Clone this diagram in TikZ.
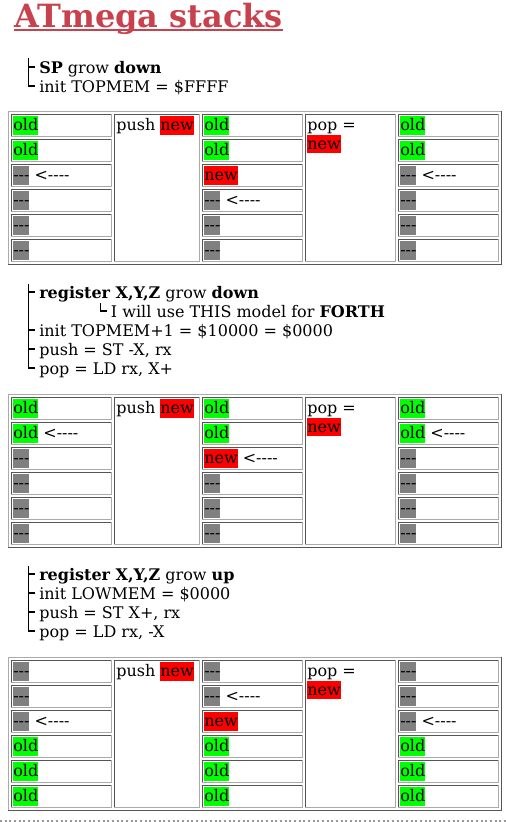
\documentclass[tikz,border=0pt]{standalone}
\usepackage{fontspec}
\setmainfont{DejaVu Serif}
\definecolor{dk}{RGB}{85,85,85}
\definecolor{lt}{RGB}{170,170,170}
\definecolor{hlg}{RGB}{0,255,0}
\definecolor{hlr}{RGB}{255,0,0}
\definecolor{hlk}{RGB}{128,128,128}
\definecolor{titlered}{RGB}{200,66,78}
\newcommand\hlbx[2]{{\setlength\fboxsep{0pt}\colorbox{#1}{\rule[-2.83pt]{0pt}{13.97pt}#2}}}
\newcommand\cOld{\hlbx{hlg}{old}}
\newcommand\cDash{\hlbx{hlk}{-\kern0pt-\kern0pt-}}
\newcommand\cNew{\hlbx{hlr}{new}}
\newcommand\cArr{\ <\kern0pt-\kern0pt-\kern0pt-\kern0pt-}
% bevelled 1px border: L T R B topleft-colour bottomright-colour
\newcommand\bevel[6]{%
  \fill[#5] (#1,#2) rectangle (#3,#2+1);
  \fill[#5] (#1,#2) rectangle (#1+1,#4);
  \fill[#6] (#1,#4-1) rectangle (#3,#4);
  \fill[#6] (#3-1,#2) rectangle (#3,#4);
}
% one column of six cells: top L R list prefix
\newcommand\stackcol[5]{%
  \foreach \cnt [count=\rw from 0] in {#4} {
    \bevel{#2}{#1+3+25*\rw}{#3}{#1+26+25*\rw}{dk}{lt}
    \node[celltext] (#5-\rw) at (#2+2,#1+19.85+25*\rw) {\cnt};
  }}
% whole table: top prefix col1 col3 col5
\newcommand\stacktable[5]{%
  \bevel{8}{#1}{502}{#1+154}{lt}{dk}
  \stackcol{#1}{11}{112}{#3}{#2a}
  \bevel{114}{#1+3}{200}{#1+151}{dk}{lt}
  \node[celltext] (#2push) at (116,#1+19.85) {push \cNew};
  \stackcol{#1}{202}{303}{#4}{#2b}
  \bevel{305}{#1+3}{396}{#1+151}{dk}{lt}
  \node[celltext] (#2pop) at (307,#1+19.85) {pop =};
  \node[celltext] (#2popnew) at (307,#1+38.7) {\cNew};
  \stackcol{#1}{398}{499}{#5}{#2c}
}
\tikzset{
  celltext/.style={anchor=base west, inner sep=0pt},
  linetext/.style={anchor=base west, inner sep=0pt},
  treeline/.style={line width=0.9pt, black},
}
\begin{document}
\begin{tikzpicture}[x=0.75pt, y=-0.75pt, font=\fontsize{12}{14.25}\selectfont]
\useasboundingbox[fill=white] (0,0) rectangle (506,822);

% title
\node[anchor=base west, inner sep=0pt, text=titlered, font=\fontsize{24}{28}\selectfont\bfseries] (title) at (14,27) {ATmega stacks};
\draw[titlered, line width=1.2pt] ([yshift=-2.25pt]title.base west) -- ([yshift=-2.25pt]title.base east);

% block 1
\node[linetext] (b1l1) at (39,73) {\textbf{SP} grow \textbf{down}};
\node[linetext] (b1l2) at (39,92) {init TOPMEM = \$FFFF};
\draw[treeline] (28.5,58) -- (28.5,86) -- (34.5,86);
\draw[treeline] (28.5,67) -- (34.5,67);

\stacktable{111}{t1}{\cOld,\cOld,{\cDash\cArr},\cDash,\cDash,\cDash}{\cOld,\cOld,\cNew,{\cDash\cArr},\cDash,\cDash}{\cOld,\cOld,{\cDash\cArr},\cDash,\cDash,\cDash}

% block 2
\node[linetext] (b2l1) at (39,298) {\textbf{register X,Y,Z} grow \textbf{down}};
\node[linetext] (b2l2) at (110.7,317) {I will use THIS model for \textbf{FORTH}};
\node[linetext] (b2l3) at (39,336) {init TOPMEM+1 = \$10000 = \$0000};
\node[linetext] (b2l4) at (39,355) {push = ST -X, rx};
\node[linetext] (b2l5) at (39,374) {pop = LD rx, X+};
\draw[treeline] (28.5,283.5) -- (28.5,368) -- (34.5,368);
\foreach \ty in {292,330,349} \draw[treeline] (28.5,\ty) -- (34.5,\ty);
\draw[treeline] (100.7,302.5) -- (100.7,311) -- (106.5,311);

\stacktable{394}{t2}{\cOld,{\cOld\cArr},\cDash,\cDash,\cDash,\cDash}{\cOld,\cOld,{\cNew\cArr},\cDash,\cDash,\cDash}{\cOld,{\cOld\cArr},\cDash,\cDash,\cDash,\cDash}

% block 3
\node[linetext] (b3l1) at (39,580) {\textbf{register X,Y,Z} grow \textbf{up}};
\node[linetext] (b3l2) at (39,599) {init LOWMEM = \$0000};
\node[linetext] (b3l3) at (39,618) {push = ST X+, rx};
\node[linetext] (b3l4) at (39,637) {pop = LD rx, -X};
\draw[treeline] (28.5,565.5) -- (28.5,631) -- (34.5,631);
\foreach \ty in {574,593,612} \draw[treeline] (28.5,\ty) -- (34.5,\ty);

\stacktable{657}{t3}{\cDash,\cDash,{\cDash\cArr},\cOld,\cOld,\cOld}{\cDash,{\cDash\cArr},\cNew,\cOld,\cOld,\cOld}{\cDash,\cDash,{\cDash\cArr},\cOld,\cOld,\cOld}

% bottom edge
\draw[gray!80, dotted, line width=1.5pt] (0,820.5) -- (506,820.5);
\end{tikzpicture}
\end{document}
